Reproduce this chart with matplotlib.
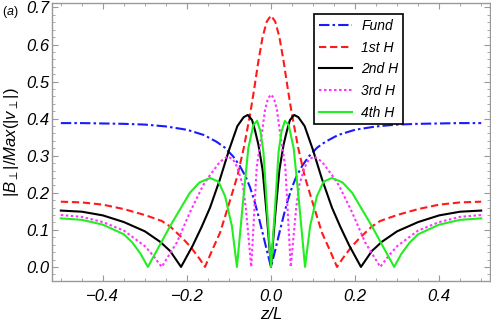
import matplotlib
matplotlib.use("Agg")
import matplotlib.pyplot as plt
from matplotlib.ticker import MultipleLocator

plt.rcParams["font.family"] = ["Liberation Sans", "DejaVu Sans"]
plt.rcParams["mathtext.fontset"] = "custom"
plt.rcParams["mathtext.it"] = "Liberation Sans:italic"
plt.rcParams["mathtext.rm"] = "Liberation Sans"

# values (|B_perp| / Max(|v_perp|) vs z/L)
fund_z = [-0.5, -0.45, -0.4, -0.35, -0.3, -0.25, -0.2, -0.16, -0.13, -0.11, -0.09, -0.075,
          -0.06, -0.05, -0.04, -0.03, -0.02, -0.01, 0.0,
          0.01, 0.02, 0.03, 0.04, 0.05, 0.06, 0.075, 0.09, 0.11, 0.13, 0.16, 0.2, 0.25,
          0.3, 0.35, 0.4, 0.45, 0.5]
fund_v = [0.388, 0.388, 0.387, 0.386, 0.384, 0.379, 0.370, 0.356, 0.338, 0.322, 0.298, 0.274,
          0.243, 0.215, 0.180, 0.138, 0.092, 0.045, 0.0,
          0.045, 0.092, 0.138, 0.180, 0.215, 0.243, 0.274, 0.298, 0.322, 0.338, 0.356, 0.370,
          0.379, 0.384, 0.386, 0.387, 0.388, 0.388]

h1_z = [-0.5, -0.45, -0.4, -0.35, -0.3, -0.26, -0.24, -0.21, -0.19, -0.17, -0.157, -0.14,
        -0.121, -0.1, -0.08, -0.065, -0.05, -0.04, -0.03, -0.02, -0.01, 0.0,
        0.01, 0.02, 0.03, 0.04, 0.05, 0.065, 0.08, 0.1, 0.121, 0.14, 0.157, 0.17, 0.19,
        0.21, 0.24, 0.26, 0.3, 0.35, 0.4, 0.45, 0.5]
h1_v = [0.176, 0.174, 0.168, 0.156, 0.140, 0.124, 0.109, 0.077, 0.052, 0.022, 0.0, 0.045,
        0.093, 0.170, 0.245, 0.320, 0.410, 0.480, 0.555, 0.620, 0.662, 0.678,
        0.662, 0.620, 0.555, 0.480, 0.410, 0.320, 0.245, 0.170, 0.093, 0.045, 0.0, 0.022,
        0.052, 0.077, 0.109, 0.124, 0.140, 0.156, 0.168, 0.174, 0.176]

h2_z = [-0.5, -0.45, -0.4, -0.35, -0.3, -0.264, -0.24, -0.214, -0.186, -0.165, -0.145,
        -0.121, -0.1, -0.08, -0.065, -0.055, -0.045, -0.038, -0.03, -0.02, -0.01, 0.0,
        0.01, 0.02, 0.03, 0.038, 0.045, 0.055, 0.065, 0.08, 0.1, 0.121, 0.145, 0.165,
        0.186, 0.214, 0.24, 0.264, 0.3, 0.35, 0.4, 0.45, 0.5]
h2_v = [0.152, 0.149, 0.139, 0.121, 0.096, 0.068, 0.043, 0.0, 0.058, 0.108, 0.160,
        0.238, 0.315, 0.380, 0.404, 0.410, 0.396, 0.368, 0.330, 0.262, 0.140, 0.0,
        0.140, 0.262, 0.330, 0.368, 0.396, 0.410, 0.404, 0.380, 0.315, 0.238, 0.160, 0.108,
        0.058, 0.0, 0.043, 0.068, 0.096, 0.121, 0.139, 0.149, 0.152]

h3_z = [-0.5, -0.45, -0.4, -0.35, -0.3, -0.28, -0.26, -0.224, -0.193, -0.162, -0.145,
        -0.121, -0.103, -0.09, -0.08, -0.067, -0.06, -0.053, -0.047, -0.04, -0.034, -0.021,
        -0.014, -0.007, 0.0,
        0.007, 0.014, 0.021, 0.034, 0.04, 0.047, 0.053, 0.06, 0.067, 0.08, 0.09, 0.103,
        0.121, 0.145, 0.162, 0.193, 0.224, 0.26, 0.28, 0.3, 0.35, 0.4, 0.45, 0.5]
h3_v = [0.140, 0.135, 0.121, 0.098, 0.056, 0.030, 0.0, 0.066, 0.147, 0.219, 0.248,
        0.284, 0.298, 0.290, 0.268, 0.220, 0.160, 0.075, 0.0, 0.145, 0.270, 0.366,
        0.425, 0.455, 0.465,
        0.455, 0.425, 0.366, 0.270, 0.145, 0.0, 0.075, 0.160, 0.220, 0.268, 0.290, 0.298,
        0.284, 0.248, 0.219, 0.147, 0.066, 0.0, 0.030, 0.056, 0.098, 0.121, 0.135, 0.140]

h4_z = [-0.5, -0.45, -0.4, -0.35, -0.33, -0.31, -0.293, -0.265, -0.24, -0.215, -0.193,
        -0.17, -0.145, -0.125, -0.109, -0.093, -0.081, -0.066, -0.054, -0.042, -0.033,
        -0.025, -0.018, -0.009, 0.0,
        0.009, 0.018, 0.025, 0.033, 0.042, 0.054, 0.066, 0.081, 0.093, 0.109, 0.125, 0.145,
        0.17, 0.193, 0.215, 0.24, 0.265, 0.293, 0.31, 0.33, 0.35, 0.4, 0.45, 0.5]
h4_v = [0.131, 0.127, 0.114, 0.088, 0.066, 0.035, 0.0, 0.058, 0.110, 0.158, 0.200,
        0.228, 0.240, 0.230, 0.190, 0.110, 0.0, 0.183, 0.320, 0.383, 0.394,
        0.365, 0.310, 0.150, 0.0,
        0.150, 0.310, 0.365, 0.394, 0.383, 0.320, 0.183, 0.0, 0.110, 0.190, 0.230, 0.240,
        0.228, 0.200, 0.158, 0.110, 0.058, 0.0, 0.035, 0.066, 0.088, 0.114, 0.127, 0.131]

labels = ["Fund", "1st H", "2nd H", "3rd H", "4th H"]

fig = plt.figure(figsize=(4.91, 3.27), dpi=100)
ax = fig.add_axes([52 / 491, 1 - 281 / 327, 438 / 491, 278 / 327])

lw = 1.5
ax.plot(fund_z, fund_v, color="#1a1aff", lw=lw, dashes=(5, 1.5, 1.2, 1.5), label=labels[0])
ax.plot(h1_z, h1_v, color="#ff1a1a", lw=lw, dashes=(3.5, 1.8), label=labels[1])
ax.plot(h2_z, h2_v, color="black", lw=lw, label=labels[2])
ax.plot(h3_z, h3_v, color="#ff33ff", lw=lw, dashes=(1.2, 1.2), label=labels[3])
ax.plot(h4_z, h4_v, color="#22ee22", lw=lw, label=labels[4])

ax.set_xlim(-0.521, 0.521)
ax.set_ylim(-0.038, 0.712)
ax.xaxis.set_major_locator(MultipleLocator(0.2))
ax.xaxis.set_minor_locator(MultipleLocator(0.05))
ax.yaxis.set_major_locator(MultipleLocator(0.1))
ax.yaxis.set_minor_locator(MultipleLocator(0.02))
ax.xaxis.set_major_formatter(lambda v, p: f"{v:.1f}".replace("-", "\u2212"))
ax.yaxis.set_major_formatter(lambda v, p: f"{v:.1f}")

frame = "#999999"
for s in ax.spines.values():
    s.set_color(frame)
    s.set_linewidth(1.0)
ax.tick_params(which="both", direction="in", top=True, right=True, color=frame)
ax.tick_params(which="major", length=4.5, width=0.8, labelsize=12)
ax.tick_params(which="minor", length=2.5, width=0.6)
ax.tick_params(axis="x", which="major", pad=6)
ax.tick_params(axis="y", which="major", pad=2)
for t in ax.get_xticklabels() + ax.get_yticklabels():
    t.set_fontstyle("italic")

ax.set_xlabel("z/L", fontsize=12, fontstyle="italic")
ax.xaxis.set_label_coords(0.5, -0.095)
ax.set_ylabel(r"$|B_{\perp}|/Max(|v_{\perp}|)$", fontsize=12)
ax.yaxis.set_label_coords(-0.07, 0.5)

fig.text(0.004, 1 - 12 / 327, r"($a$)", fontsize=9, va="center", ha="left")

leg = ax.legend(loc="upper left", bbox_to_anchor=(0.598, 0.960), borderaxespad=0,
                fancybox=False, framealpha=1, edgecolor="black", handlelength=2.4,
                handletextpad=0.65, labelspacing=0.55, borderpad=0.35,
                prop={"size": 10, "style": "italic"})
leg.get_frame().set_linewidth(1.2)

fig.savefig("out.png", dpi=100)
